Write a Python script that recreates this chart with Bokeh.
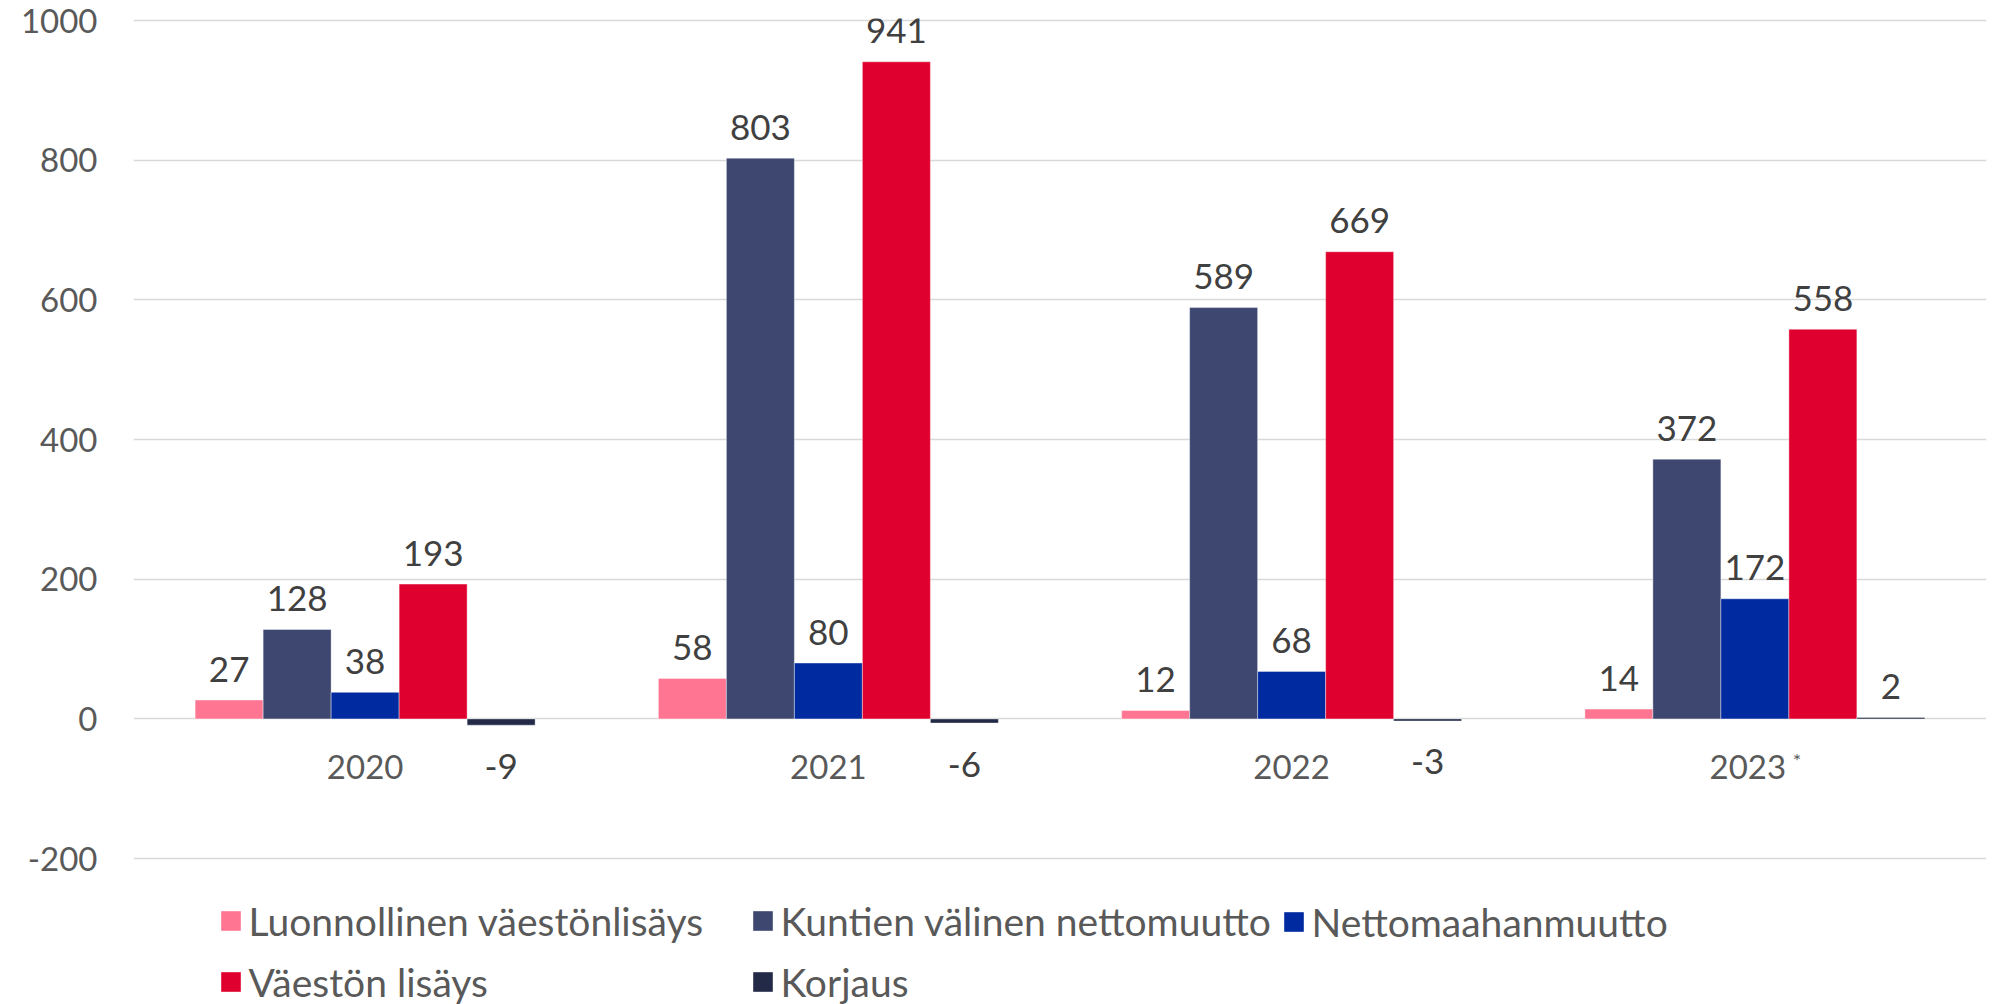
from bokeh.plotting import figure
from bokeh.models import ColumnDataSource, FactorRange, Range1d, FixedTicker, Legend, LegendItem
from bokeh.transform import dodge
from bokeh.core.properties import value
from bokeh.embed import file_html
from bokeh.resources import INLINE

# ---- data ----
years = ["2020", "2021", "2022", "2023"]
year_notes = ["", "", "", "*"]
series_names = [
    "Luonnollinen väestönlisäys",
    "Kuntien välinen nettomuutto",
    "Nettomaahanmuutto",
    "Väestön lisäys",
    "Korjaus",
]
luonnollinen = [27, 58, 12, 14]
kuntien = [128, 803, 589, 372]
nettomaahan = [38, 80, 68, 172]
vaeston_lisays = [193, 941, 669, 558]
korjaus = [-9, -6, -3, 2]
series_values = [luonnollinen, kuntien, nettomaahan, vaeston_lisays, korjaus]
yticks = [-200, 0, 200, 400, 600, 800, 1000]

# ---- style ----
colors = ["#FF7592", "#3D4770", "#002AA0", "#E0002F", "#232A47"]
FONT = "Lato"
W, H = 1993, 1004
bw = 68 / 463.25

# frame runs to the bottom of the canvas so the legend can sit inside it
p = figure(width=W, height=H, x_range=FactorRange(factors=years),
           y_range=Range1d(-409, 1003), output_backend="svg",
           toolbar_location=None, x_axis_location=None,
           min_border_left=133, min_border_right=7,
           min_border_top=18, min_border_bottom=0)
p.outline_line_color = None
p.background_fill_color = "white"

p.yaxis.ticker = FixedTicker(ticks=yticks)
p.yaxis.major_label_overrides = {t: str(t) for t in yticks}
p.yaxis.axis_line_color = None
p.yaxis.major_tick_line_color = None
p.yaxis.minor_tick_line_color = None
p.yaxis.major_tick_out = 0
p.yaxis.major_tick_in = 0
p.yaxis.major_label_standoff = 36
p.yaxis.major_label_text_font = FONT
p.yaxis.major_label_text_font_size = "33px"
p.yaxis.major_label_text_color = "#595959"

p.xgrid.grid_line_color = None
p.ygrid.ticker = FixedTicker(ticks=yticks)
p.ygrid.grid_line_color = "#D9D9D9"
p.ygrid.grid_line_width = 1.5

renderers = []
for i, (name, vals, col) in enumerate(zip(series_names, series_values, colors)):
    src = ColumnDataSource(dict(
        x=years, top=vals, label=[str(v) for v in vals],
        yoff=[-31 if v >= 0 else 41 for v in vals],
    ))
    off = (i - 2) * bw
    r = p.vbar(x=dodge("x", off, range=p.x_range), top="top", bottom=0,
               width=bw, fill_color=col, line_color="white",
               line_width=0.8, line_alpha=0.5, source=src)
    renderers.append(r)
    p.text(x=dodge("x", off, range=p.x_range), y="top", text="label",
           y_offset="yoff", text_align="center", text_baseline="middle",
           text_font=value(FONT), text_font_size="35px", text_color="#404040",
           source=src)

# category labels along the zero line
zeros = [0] * len(years)
ysrc = ColumnDataSource(dict(
    x=years, y=zeros, label=years, note=year_notes,
    xoff=[-7 if n else 0 for n in year_notes],
))
p.text(x="x", y="y", text="label", x_offset="xoff", y_offset=48,
       text_align="center", text_baseline="middle", text_font=value(FONT),
       text_font_size="33px", text_color="#595959", source=ysrc)
p.text(x="x", y="y", text="note", x_offset=42, y_offset=41,
       text_align="center", text_baseline="middle", text_font=value(FONT),
       text_font_size="20px", text_color="#595959", source=ysrc)

# legend: three columns placed like the reference
columns = [[0, 3], [1, 4], [2]]
col_x = [217.5 - 133, 749.5 - 133, 1280.5 - 133]
row_h = 45
spacing = 15
for idxs, vx in zip(columns, col_x):
    items = [LegendItem(label=series_names[k], renderers=[renderers[k]]) for k in idxs]
    n = len(idxs)
    lh = n * row_h + (n - 1) * spacing
    vy = 1004 - (910.5 + lh) + 11
    leg = Legend(items=items, location=(vx, vy), orientation="vertical",
                 glyph_width=25, glyph_height=25, label_height=row_h,
                 label_standoff=6, spacing=spacing, padding=0, margin=0,
                 border_line_color=None, background_fill_alpha=0,
                 label_text_font=FONT, label_text_font_size="39px",
                 label_text_color="#595959")
    p.add_layout(leg, "center")

open("out.html", "w").write(file_html(p, INLINE))
